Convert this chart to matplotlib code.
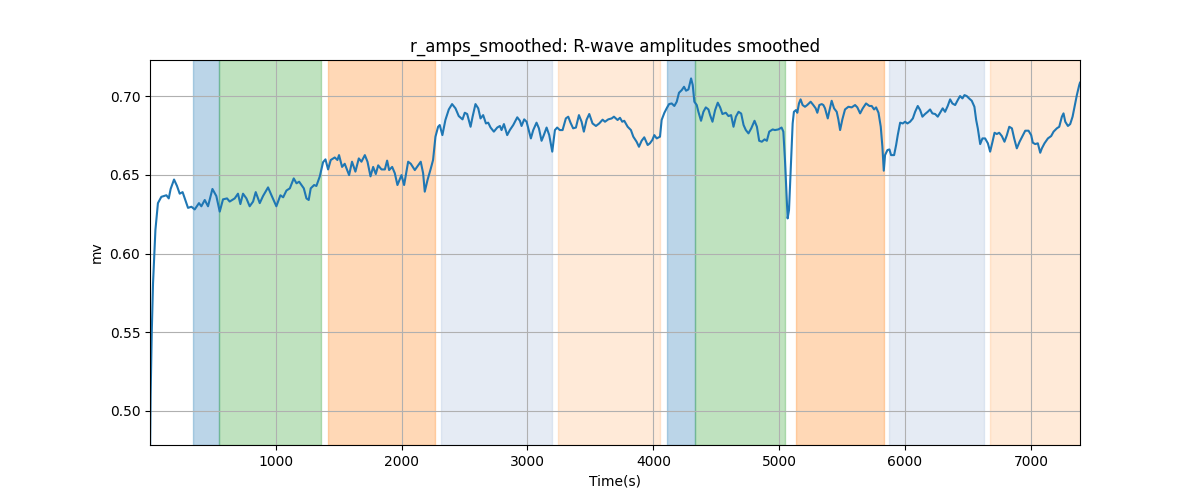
import numpy as np
import matplotlib
matplotlib.use("Agg")
import matplotlib.pyplot as plt

# smoothed R-wave amplitudes (time in s, amplitude in mV)
t = [1, 6, 15, 25, 44, 64, 91, 131, 150, 165, 192, 215, 237, 260, 303, 330, 356, 390, 409,
     436, 462, 497, 528, 555, 581, 613, 634, 674, 700, 719, 740, 767, 793, 820, 841, 873,
     899, 939, 966, 1005, 1037, 1059, 1085, 1112, 1143, 1165, 1186, 1223, 1244, 1262, 1278,
     1305, 1323, 1350, 1376, 1395, 1416, 1437, 1469, 1490, 1503, 1527, 1548, 1583, 1606,
     1633, 1660, 1681, 1708, 1729, 1753, 1774, 1795, 1814, 1840, 1867, 1885, 1901, 1925,
     1946, 1967, 1999, 2020, 2052, 2073, 2105, 2131, 2152, 2171, 2184, 2206, 2232, 2250,
     2269, 2290, 2303, 2324, 2348, 2375, 2401, 2428, 2454, 2484, 2502, 2521, 2548, 2564,
     2587, 2609, 2627, 2648, 2670, 2688, 2707, 2733, 2760, 2781, 2794, 2813, 2839, 2860,
     2887, 2919, 2940, 2953, 2974, 2993, 3027, 3046, 3072, 3091, 3112, 3130, 3152, 3173,
     3197, 3218, 3236, 3257, 3279, 3305, 3324, 3342, 3363, 3385, 3409, 3430, 3448, 3470,
     3491, 3517, 3544, 3570, 3597, 3616, 3642, 3669, 3687, 3716, 3735, 3753, 3769, 3796,
     3822, 3841, 3867, 3886, 3907, 3928, 3955, 3973, 3992, 4008, 4027, 4053, 4066, 4088,
     4106, 4125, 4146, 4167, 4186, 4204, 4226, 4244, 4260, 4279, 4300, 4313, 4326, 4345,
     4358, 4379, 4398, 4417, 4438, 4451, 4470, 4491, 4512, 4531, 4549, 4576, 4597, 4618,
     4637, 4656, 4677, 4698, 4717, 4735, 4756, 4778, 4804, 4823, 4841, 4862, 4884, 4902,
     4921, 4948, 4966, 4993, 5019, 5033, 5046, 5059, 5067, 5078, 5091, 5107, 5117, 5133,
     5144, 5157, 5170, 5186, 5205, 5223, 5250, 5271, 5290, 5303, 5319, 5338, 5351, 5364,
     5386, 5399, 5417, 5436, 5457, 5470, 5484, 5502, 5523, 5550, 5576, 5603, 5621, 5643,
     5664, 5690, 5717, 5735, 5754, 5770, 5789, 5807, 5820, 5831, 5841, 5860, 5876, 5889,
     5913, 5929, 5942, 5961, 5982, 6000, 6019, 6040, 6062, 6080, 6101, 6120, 6138, 6159,
     6180, 6199, 6217, 6239, 6260, 6278, 6299, 6318, 6339, 6358, 6376, 6398, 6419, 6437,
     6456, 6472, 6490, 6509, 6530, 6551, 6565, 6578, 6597, 6615, 6636, 6658, 6676, 6695,
     6711, 6729, 6748, 6769, 6790, 6809, 6828, 6849, 6867, 6888, 6910, 6933, 6955, 6981,
     7002, 7015, 7034, 7055, 7074, 7087, 7108, 7135, 7161, 7180, 7206, 7225, 7246, 7259,
     7273, 7294, 7312, 7331, 7352, 7365, 7384, 7390]
amp = [0.470, 0.510, 0.550, 0.581, 0.615, 0.632, 0.636, 0.637, 0.635, 0.641, 0.647, 0.643,
       0.638, 0.639, 0.629, 0.6297, 0.628, 0.632, 0.630, 0.634, 0.630, 0.641, 0.6365, 0.6266,
       0.6344, 0.635, 0.633, 0.635, 0.638, 0.6314, 0.638, 0.635, 0.630, 0.633, 0.639, 0.632,
       0.6365, 0.642, 0.637, 0.630, 0.637, 0.6357, 0.640, 0.6414, 0.6477, 0.6446, 0.6456,
       0.6414, 0.635, 0.634, 0.6414, 0.6435, 0.6429, 0.649, 0.658, 0.6598, 0.6534, 0.6594,
       0.661, 0.6594, 0.6625, 0.655, 0.657, 0.6498, 0.6583, 0.652, 0.6604, 0.6583, 0.6625,
       0.6583, 0.649, 0.655, 0.6505, 0.656, 0.6534, 0.6534, 0.659, 0.653, 0.655, 0.651,
       0.6435, 0.6498, 0.6435, 0.6583, 0.657, 0.653, 0.656, 0.6583, 0.651, 0.6393, 0.6467,
       0.654, 0.6594, 0.6742, 0.6805, 0.6816, 0.6752, 0.6848, 0.6915, 0.6949, 0.6922, 0.6873,
       0.6852, 0.6894, 0.6886, 0.6805, 0.6869, 0.6949, 0.6922, 0.6858, 0.6879, 0.6826,
       0.6831, 0.680, 0.6774, 0.680, 0.681, 0.6784, 0.6822, 0.6752, 0.6784, 0.6816, 0.6865,
       0.6843, 0.681, 0.6852, 0.6837, 0.6731, 0.6784, 0.6831, 0.6795, 0.6716, 0.6752, 0.680,
       0.6752, 0.6647, 0.6784, 0.680, 0.6784, 0.6784, 0.6858, 0.6869, 0.6831, 0.6795, 0.680,
       0.6879, 0.6837, 0.6774, 0.685, 0.6886, 0.6826, 0.681, 0.6826, 0.685, 0.6837, 0.6852,
       0.6858, 0.6869, 0.6848, 0.6862, 0.6837, 0.6843, 0.6805, 0.6784, 0.6742, 0.671, 0.6678,
       0.6716, 0.6738, 0.6689, 0.670, 0.6721, 0.6752, 0.6731, 0.6742, 0.6848, 0.6894, 0.6922,
       0.6949, 0.6953, 0.6937, 0.6964, 0.7021, 0.7038, 0.7059, 0.7034, 0.7042, 0.7112, 0.707,
       0.6964, 0.6943, 0.690, 0.6843, 0.690, 0.6928, 0.6915, 0.6879, 0.6837, 0.6911, 0.6958,
       0.6928, 0.6886, 0.6894, 0.6873, 0.6879, 0.6805, 0.6869, 0.690, 0.6889, 0.6816, 0.6784,
       0.6763, 0.6795, 0.6843, 0.6805, 0.6716, 0.671, 0.6725, 0.6716, 0.6774, 0.6788, 0.6784,
       0.6788, 0.680, 0.6774, 0.6594, 0.6361, 0.6223, 0.6276, 0.653, 0.6826, 0.690, 0.6911,
       0.6894, 0.6953, 0.6979, 0.6943, 0.6932, 0.6943, 0.6964, 0.6943, 0.6922, 0.6894, 0.6943,
       0.6949, 0.6943, 0.6922, 0.6858, 0.6907, 0.697, 0.6922, 0.690, 0.6852, 0.6784, 0.6852,
       0.6915, 0.6932, 0.6928, 0.6943, 0.6928, 0.689, 0.6922, 0.6953, 0.6937, 0.6937, 0.6915,
       0.6928, 0.6894, 0.6805, 0.6678, 0.6526, 0.6625, 0.6657, 0.6661, 0.6625, 0.6625, 0.6689,
       0.6752, 0.6831, 0.6826, 0.6837, 0.6826, 0.6837, 0.6858, 0.690, 0.6937, 0.6911, 0.6869,
       0.6886, 0.690, 0.6915, 0.689, 0.6886, 0.6869, 0.6894, 0.6922, 0.690, 0.6937, 0.6979,
       0.6953, 0.6943, 0.6975, 0.700, 0.6985, 0.7006, 0.700, 0.6985, 0.697, 0.6932, 0.6848,
       0.6795, 0.6695, 0.6731, 0.6731, 0.670, 0.6647, 0.671, 0.6767, 0.6759, 0.6767, 0.6746,
       0.671, 0.6752, 0.6805, 0.6795, 0.6731, 0.6668, 0.671, 0.6746, 0.678, 0.678, 0.6752,
       0.6704, 0.6695, 0.670, 0.664, 0.6668, 0.670, 0.6731, 0.6746, 0.6774, 0.6795, 0.6805,
       0.6869, 0.689, 0.6837, 0.681, 0.6822, 0.6869, 0.6953, 0.7006, 0.707, 0.7085]

# shaded phases: start, end, colour, alpha
span_start = [342, 552, 1413, 2312, 3242, 4112, 4331, 5130, 5869, 6676]
span_end = [552, 1358, 2264, 3194, 4052, 4331, 5046, 5830, 6628, 7400]
span_color = ["C0", "C2", "C1", "lightsteelblue", "C1", "C0", "C2", "C1", "lightsteelblue", "C1"]
span_alpha = [0.3, 0.3, 0.3, 0.33, 0.16, 0.3, 0.3, 0.3, 0.33, 0.16]

fig, ax = plt.subplots(figsize=(12, 5), dpi=100)
for s, e, c, a in zip(span_start, span_end, span_color, span_alpha):
    ax.axvspan(s, e, color=c, alpha=a)
ax.plot(t, amp, color="C0", linewidth=1.5)
ax.set_xlim(t[0], t[-1])
ax.set_ylim(0.4784, 0.7229)
ax.grid(True)
ax.set_title("r_amps_smoothed: R-wave amplitudes smoothed")
ax.set_xlabel("Time(s)")
ax.set_ylabel("mv")
fig.savefig("out.png")
